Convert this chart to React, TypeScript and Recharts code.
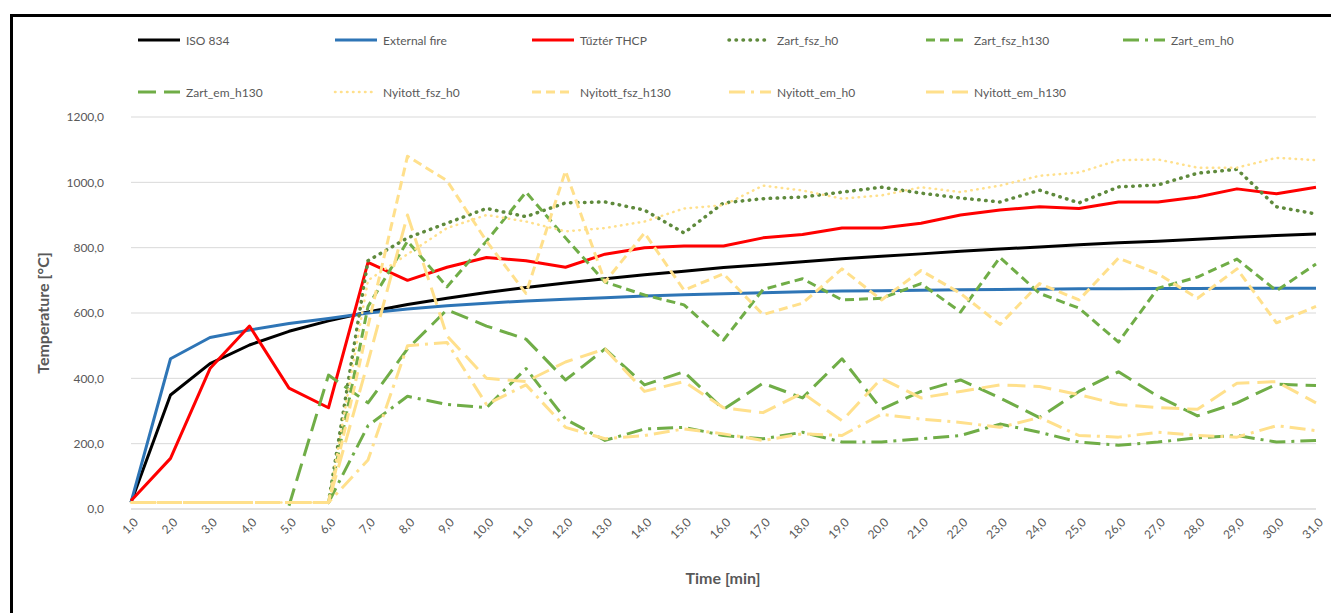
import { LineChart, Line, XAxis, YAxis, CartesianGrid } from 'recharts';

// time axis [min]
const time = [1, 2, 3, 4, 5, 6, 7, 8, 9, 10, 11, 12, 13, 14, 15, 16, 17, 18, 19, 20, 21, 22, 23, 24, 25, 26, 27, 28, 29, 30, 31];
const yTicks = [0, 200, 400, 600, 800, 1000, 1200];

// temperatures [°C]
const iso834 = [20, 349, 445, 502, 544, 576, 603, 626, 645, 663, 678, 692, 705, 717, 728, 739, 748, 757, 766, 774, 781, 789, 796, 802, 809, 815, 820, 826, 832, 837, 842];
const externalFire = [20, 460, 525, 548, 568, 583, 600, 612, 622, 630, 637, 642, 647, 652, 656, 659, 662, 665, 667, 668, 670, 671, 672, 673, 674, 674, 675, 675, 676, 676, 676];
const tuzter = [25, 155, 430, 560, 370, 310, 755, 700, 740, 770, 760, 740, 780, 800, 805, 805, 830, 840, 860, 860, 875, 900, 915, 925, 920, 940, 940, 955, 980, 965, 985];
const zartFszH0 = [null, null, null, null, null, 20, 760, 830, 875, 920, 895, 937, 940, 915, 845, 937, 950, 955, 970, 985, 967, 952, 940, 976, 937, 986, 992, 1028, 1040, 925, 903];
const zartFszH130 = [null, null, null, null, null, 20, 620, 820, 680, 820, 970, 830, 695, 655, 625, 517, 672, 705, 640, 645, 690, 603, 770, 660, 615, 511, 676, 710, 765, 668, 750];
const zartEmH0 = [null, null, null, null, null, 20, 255, 345, 320, 310, 430, 275, 210, 245, 250, 225, 215, 235, 205, 205, 215, 225, 260, 235, 205, 195, 205, 218, 225, 205, 210];
const zartEmH130 = [null, null, null, null, 10, 410, 325, 490, 610, 560, 520, 395, 490, 380, 420, 305, 385, 340, 460, 305, 360, 395, 340, 280, 360, 420, 345, 285, 325, 382, 378];
const nyitottFszH0 = [20, 20, 20, 20, 20, 20, 700, 780, 860, 900, 880, 850, 860, 880, 920, 930, 990, 975, 950, 960, 985, 970, 990, 1020, 1030, 1068, 1070, 1045, 1045, 1075, 1068];
const nyitottFszH130 = [20, 20, 20, 20, 20, 20, 560, 1080, 1005, 820, 660, 1035, 695, 845, 670, 720, 595, 630, 735, 640, 730, 660, 565, 690, 640, 768, 720, 645, 735, 570, 620];
const nyitottEmH0 = [20, 20, 20, 20, 20, 20, 150, 500, 510, 320, 380, 250, 215, 225, 245, 230, 210, 230, 225, 290, 275, 265, 250, 280, 225, 220, 235, 225, 220, 255, 240];
const nyitottEmH130 = [20, 20, 20, 20, 20, 20, 450, 900, 530, 400, 390, 450, 490, 360, 390, 310, 295, 355, 270, 400, 340, 360, 380, 375, 350, 320, 310, 305, 385, 390, 325];

const GREEN = '#70AD47';
const YELLOW = '#FFE08C';

const SERIES = [
  { key: 'iso', name: 'ISO 834', values: iso834, color: '#000000', width: 3, dash: undefined, cap: 'butt' },
  { key: 'ext', name: 'External fire', values: externalFire, color: '#2E75B6', width: 3, dash: undefined, cap: 'butt' },
  { key: 'thcp', name: 'Tűztér THCP', values: tuzter, color: '#FF0000', width: 3, dash: undefined, cap: 'butt' },
  { key: 'zfh0', name: 'Zart_fsz_h0', values: zartFszH0, color: '#5F8A3C', width: 3.5, dash: '0.5 6.5', cap: 'round' },
  { key: 'zfh130', name: 'Zart_fsz_h130', values: zartFszH130, color: GREEN, width: 3, dash: '9 5', cap: 'butt' },
  { key: 'zeh0', name: 'Zart_em_h0', values: zartEmH0, color: GREEN, width: 3, dash: '16 6 3 6', cap: 'butt' },
  { key: 'zeh130', name: 'Zart_em_h130', values: zartEmH130, color: GREEN, width: 3, dash: '18 8', cap: 'butt' },
  { key: 'nfh0', name: 'Nyitott_fsz_h0', values: nyitottFszH0, color: YELLOW, width: 2.5, dash: '0.5 5.5', cap: 'round' },
  { key: 'nfh130', name: 'Nyitott_fsz_h130', values: nyitottFszH130, color: YELLOW, width: 3, dash: '9 5', cap: 'butt' },
  { key: 'neh0', name: 'Nyitott_em_h0', values: nyitottEmH0, color: YELLOW, width: 3, dash: '16 6 3 6', cap: 'butt' },
  { key: 'neh130', name: 'Nyitott_em_h130', values: nyitottEmH130, color: YELLOW, width: 3, dash: '18 8', cap: 'butt' },
];

const data = time.map((t, i) => {
  const row: Record<string, number | null> = { t };
  SERIES.forEach((s) => {
    row[s.key] = s.values[i];
  });
  return row;
});

const fmt = (v: number) => v.toFixed(1).replace('.', ',');
const FONT = 'Lato, "Open Sans", sans-serif';
const TEXT = '#595959';

function TimeTick({ x, y, payload }: any) {
  return (
    <g transform={`translate(${x + 5},${y + 9}) rotate(-45)`}>
      <text x={0} y={0} dy="0.35em" textAnchor="end" fill={TEXT} fontSize={12} fontFamily={FONT}>
        {fmt(payload.value)}
      </text>
    </g>
  );
}

function Legend() {
  return (
    <div
      style={{
        position: 'absolute',
        left: 136,
        top: 14,
        width: 6 * 197,
        display: 'flex',
        flexWrap: 'wrap',
        fontFamily: FONT,
        fontSize: 12,
        color: TEXT,
      }}
    >
      {SERIES.map((s) => (
        <div key={s.key} style={{ width: 197, height: 52, display: 'flex', alignItems: 'center' }}>
          <svg width={46} height={8} style={{ marginRight: 4 }}>
            <line
              x1={2}
              y1={4}
              x2={44}
              y2={4}
              stroke={s.color}
              strokeWidth={s.width}
              strokeDasharray={s.dash}
              strokeLinecap={s.cap as any}
            />
          </svg>
          <span>{s.name}</span>
        </div>
      ))}
    </div>
  );
}

export default function App() {
  return (
    <div style={{ position: 'absolute', left: 0, top: 0, width: 1331, height: 613, overflow: 'hidden', background: '#fff' }}>
      <div
        style={{
          position: 'absolute',
          left: 10,
          top: 14,
          width: 1400,
          height: 700,
          border: '3px solid #000',
        }}
      />
      <Legend />
      <div style={{ position: 'absolute', left: 0, top: 0 }}>
        <LineChart width={1331} height={613} data={data} margin={{ top: 117, right: 15, bottom: 0, left: 0 }}>
          <CartesianGrid horizontal vertical={false} stroke="#D9D9D9" />
          <XAxis
            dataKey="t"
            type="number"
            domain={[1, 31]}
            ticks={time}
            interval={0}
            tick={<TimeTick />}
            tickLine={false}
            tickSize={0}
            axisLine={{ stroke: '#D9D9D9' }}
            height={104}
            label={{
              content: () => (
                <text x={723} y={584} textAnchor="middle" fill={TEXT} fontSize={16} fontWeight="bold" fontFamily={FONT}>
                  Time [min]
                </text>
              ),
            }}
          />
          <YAxis
            type="number"
            domain={[0, 1200]}
            ticks={yTicks}
            width={131}
            tickFormatter={fmt}
            tick={{ fill: TEXT, fontSize: 12, fontFamily: FONT }}
            tickLine={false}
            tickSize={0}
            tickMargin={27}
            axisLine={false}
            label={{
              content: () => (
                <text
                  x={42}
                  y={313}
                  transform="rotate(-90 42 313)"
                  textAnchor="middle"
                  dominantBaseline="central"
                  fill={TEXT}
                  fontSize={16}
                  fontWeight="bold"
                  fontFamily={FONT}
                >
                  Temperature [°C]
                </text>
              ),
            }}
          />
          {SERIES.map((s) => (
            <Line
              key={s.key}
              dataKey={s.key}
              name={s.name}
              type="linear"
              stroke={s.color}
              strokeWidth={s.width}
              strokeDasharray={s.dash}
              strokeLinecap={s.cap as any}
              strokeLinejoin="round"
              dot={false}
              activeDot={false}
              connectNulls={false}
              isAnimationActive={false}
            />
          ))}
        </LineChart>
      </div>
    </div>
  );
}
